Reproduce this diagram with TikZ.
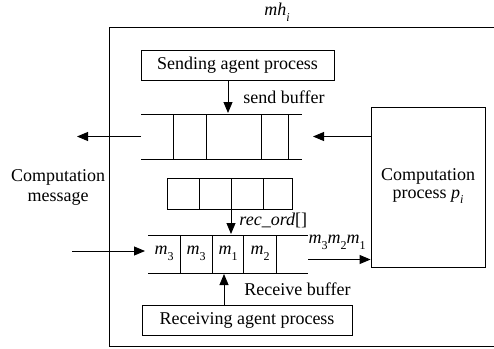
\documentclass[tikz,border=0pt]{standalone}
\usepackage{fontspec}
\setmainfont{Liberation Serif}
\usetikzlibrary{arrows.meta}
\newcommand{\sbs}[1]{\raisebox{-0.32em}{\fontsize{12}{12}\selectfont #1}}
\begin{document}
\begin{tikzpicture}[x=1pt,y=-1pt,line width=0.9pt,
  txt/.style={font=\fontsize{18}{20}\selectfont,inner sep=0pt},
  proc/.style={draw,txt,inner sep=0pt},
  arr/.style={-{Triangle[length=11pt,width=9pt]}}]
\useasboundingbox (0,0) rectangle (494,348);
% outer host box (right side beyond the picture)
\draw (496,27.5) -- (109.5,27.5) -- (109.5,346.5) -- (496,346.5);
\node[txt] (mh) at (277,12) {\textit{mh}\sbs{\textit{i}}};
% processes
\node[proc,minimum width=193,minimum height=30] (send) at (237.5,65) {Sending agent process};
\node[proc,minimum width=210,minimum height=30] (recv) at (247,320) {Receiving agent process};
\node[draw,minimum width=114,minimum height=160] (comp) at (428,187) {};
\node[txt,align=center,font=\fontsize{18}{18}\selectfont] (comptxt) at (428,186) {Computation\\process \textit{p}\sbs{\textit{i}}};
% send buffer
\draw (141,114) -- (302,114) (141,159) -- (302,159);
\foreach \x in {173,206,261,288} \draw (\x,114) -- (\x,159);
\coordinate (sbtopin) at (228,113);
\coordinate (sbleft) at (141,136.5);
\coordinate (sbright) at (313,136.5);
\node[txt,anchor=west] (sblabel) at (243,97) {send buffer};
% rec_ord buffer
\draw (167,178) rectangle (292,209);
\foreach \x in {199,231,263} \draw (\x,178) -- (\x,209);
\coordinate (robot) at (231,209);
\coordinate (rbtop) at (231,234);
\node[txt,anchor=west] (rolabel) at (239,220) {\textit{rec\_ord}[]};
% receive buffer
\draw (148,235) -- (308,235) (148,273) -- (308,273);
\foreach \x in {180,212,243,276} \draw (\x,235) -- (\x,273);
\node[txt] (c1) at (164,253) {\textit{m}\sbs{3}};
\node[txt] (c2) at (196,253) {\textit{m}\sbs{3}};
\node[txt] (c3) at (228,253) {\textit{m}\sbs{1}};
\node[txt] (c4) at (260,253) {\textit{m}\sbs{2}};
\coordinate (rbleft) at (145,251);
\coordinate (rbright) at (308,259.5);
\coordinate (rbbot) at (224,274);
\node[txt,anchor=west] (rblabel) at (244,289) {Receive buffer};
\node[txt] (outlabel) at (337,242) {\textit{m}\sbs{3}\textit{m}\sbs{2}\textit{m}\sbs{1}};
% outside
\node[txt,align=center] (cm) at (58,187) {Computation\\message};
\coordinate (outL) at (77,136.5);
\coordinate (inL) at (72,251);
% connectors
\draw[arr] (send.south -| sbtopin) -- (sbtopin);
\draw[arr] (robot) -- (rbtop);
\draw[arr] (recv.north -| rbbot) -- (rbbot);
\draw[arr] (sbleft) -- (outL);
\draw[arr] (inL) -- (rbleft);
\draw[arr] (comp.west |- sbright) -- (sbright);
\draw[arr] (rbright) -- (comp.west |- rbright);
\end{tikzpicture}
\end{document}
